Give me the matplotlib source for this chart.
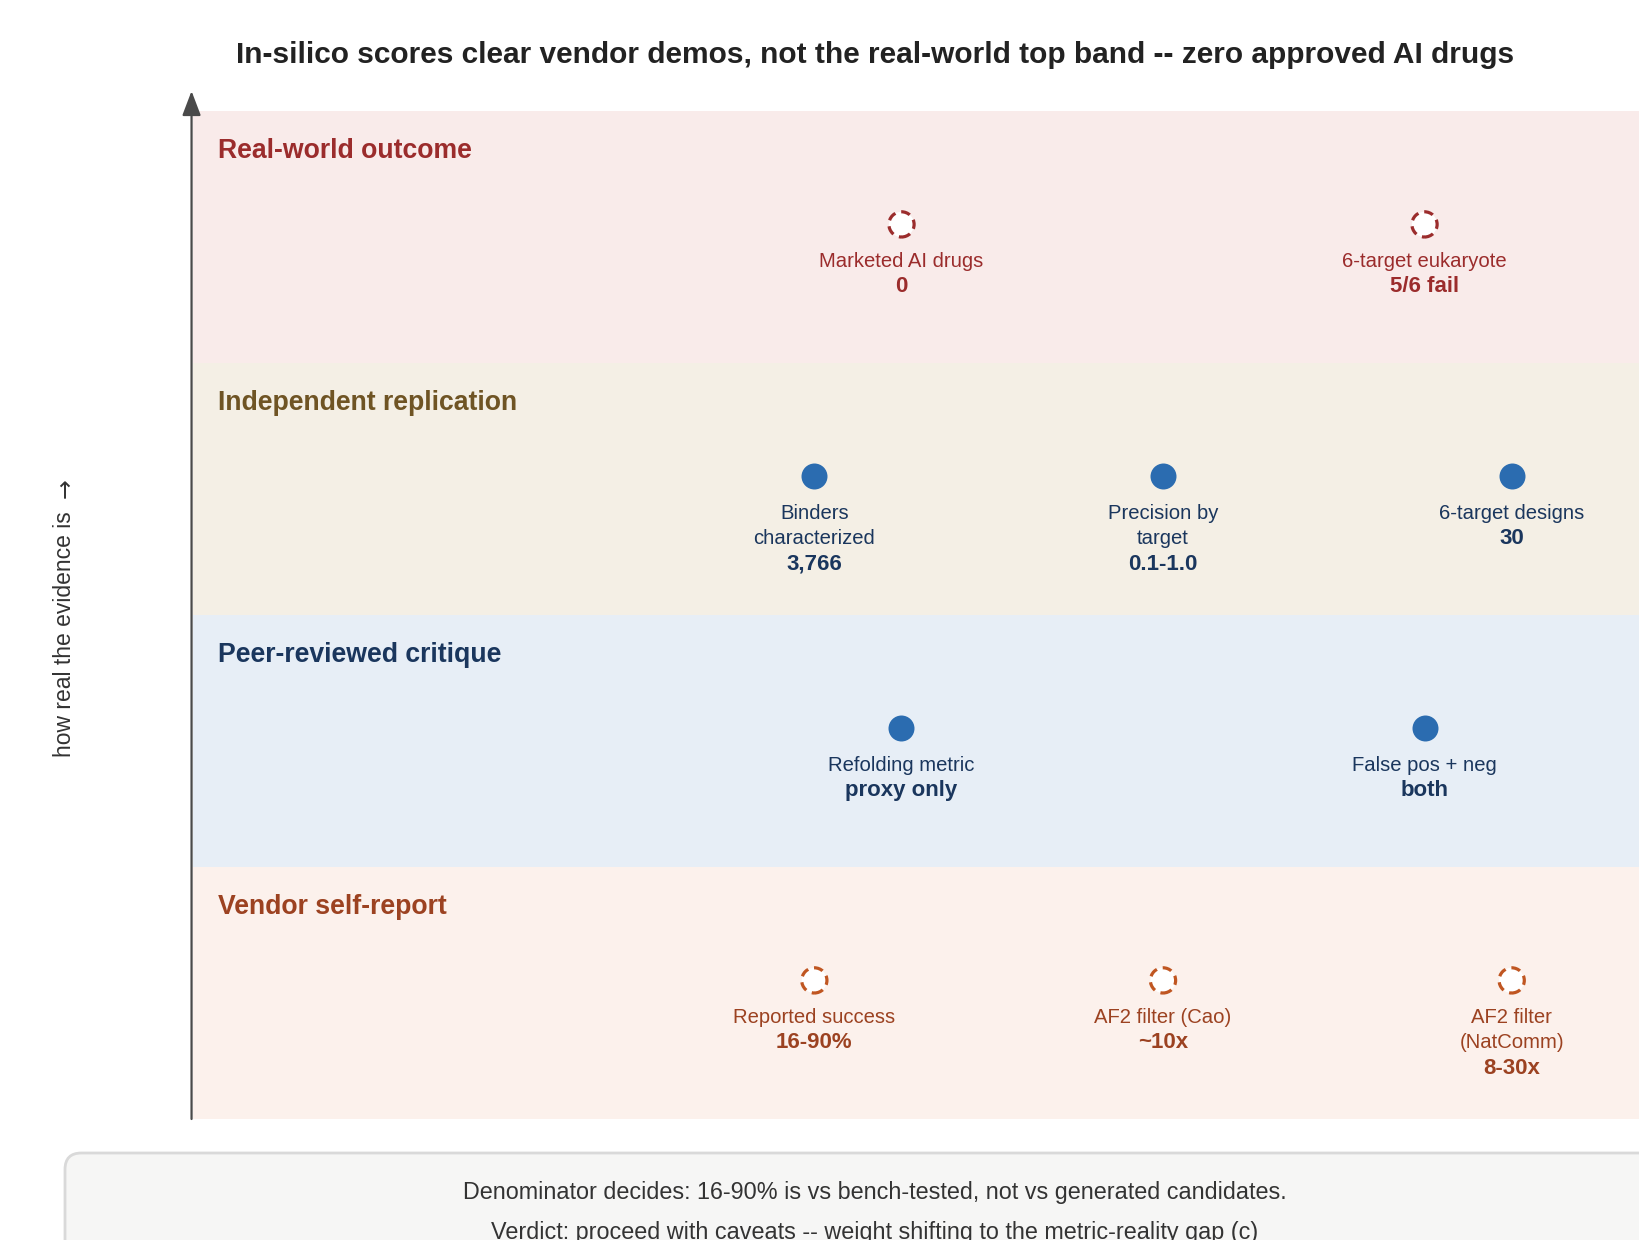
import numpy as np
import matplotlib.pyplot as plt
from matplotlib.patches import FancyBboxPatch

plt.rcParams['font.family'] = ['Liberation Sans', 'DejaVu Sans']

# bands, bottom to top
bands = ['Vendor self-report', 'Peer-reviewed critique',
         'Independent replication', 'Real-world outcome']
band_bg = ['#fcf1ec', '#e7eef6', '#f4efe5', '#f9ebea']
band_fg = ['#9c4221', '#1a365d', '#6f5424', '#9b2c2c']
text_fg = ['#9c4221', '#1a365d', '#1a365d', '#9b2c2c']
mark_fg = ['#c05621', '#2b6cb0', '#2b6cb0', '#9b2c2c']
hollow = [True, False, False, True]

vendor_labels = ['Reported success', 'AF2 filter (Cao)', 'AF2 filter\n(NatComm)']
vendor_values = ['16-90%', '~10x', '8-30x']
peer_labels = ['Refolding metric', 'False pos + neg']
peer_values = ['proxy only', 'both']
indep_labels = ['Binders\ncharacterized', 'Precision by\ntarget', '6-target designs']
indep_values = ['3,766', '0.1-1.0', '30']
real_labels = ['Marketed AI drugs', '6-target eukaryote']
real_values = ['0', '5/6 fail']

band_labels = [vendor_labels, peer_labels, indep_labels, real_labels]
band_values = [vendor_values, peer_values, indep_values, real_values]

title = 'In-silico scores clear vendor demos, not the real-world top band -- zero approved AI drugs'
ylabel = 'how real the evidence is'
ylabel_arrow = '\u2192'
notes = ['Denominator decides: 16-90% is vs bench-tested, not vs generated candidates.',
         'Verdict: proceed with caveats -- weight shifting to the metric-reality gap (c)']

W, H = 1640, 1240
fig = plt.figure(figsize=(W / 100, H / 100), dpi=100)
ax = fig.add_axes([193 / W, 1 - 1119 / H, 1 - 193 / W, 1008 / H])
ax.set_xlim(-0.4273, 0.956)
ax.set_ylim(0, 4)
ax.axis('off')

for i, name in enumerate(bands):
    ax.axhspan(i, i + 1, color=band_bg[i], lw=0, zorder=0)
    ax.annotate(name, xy=(0, i + 0.842), xycoords=ax.get_yaxis_transform(),
                xytext=(18, 0), textcoords='offset points', ha='left', va='center',
                fontsize=19.2, fontweight='bold', color=band_fg[i])

    labels = band_labels[i]
    values = band_values[i]
    n = len(labels)
    xs = (np.arange(n) + 0.5) / n
    ys = np.full(n, i + 0.55)
    if hollow[i]:
        ax.scatter(xs, ys, s=330, facecolor='white', edgecolor=mark_fg[i],
                   linewidths=2.3, linestyle=(0, (2.9, 1.9)), zorder=3)
    else:
        ax.scatter(xs, ys, s=350, color=mark_fg[i], lw=0, zorder=3)

    for x, y, lab, val in zip(xs, ys, labels, values):
        lines = lab.split('\n')
        for k, line in enumerate(lines):
            ax.annotate(line, xy=(x, y), xytext=(0, -(37 + 25.5 * k) * 0.72),
                        textcoords='offset points', ha='center', va='center',
                        fontsize=14.6, color=text_fg[i])
        ax.annotate(val, xy=(x, y), xytext=(0, -(37 + 25.5 * len(lines)) * 0.72),
                    textcoords='offset points', ha='center', va='center',
                    fontsize=16, fontweight='bold', color=text_fg[i])

# vertical arrow
ax.annotate('', xy=(-0.001, 1.0198), xytext=(-0.001, 0), xycoords='axes fraction',
            arrowprops=dict(arrowstyle='-|>,head_length=1.0,head_width=0.38',
                            mutation_scale=15, color='#4a4a4a', lw=1.6,
                            shrinkA=0, shrinkB=0), annotation_clip=False)

fig.text(875 / W, 1 - 55 / H, title, ha='center', va='center',
         fontsize=21.5, fontweight='bold', color='#222222')
fig.text(65 / W, 1 - 757 / H, ylabel, rotation=90, ha='center', va='bottom',
         fontsize=16.5, color='#333333')
fig.text(66 / W, 1 - 498 / H, ylabel_arrow, rotation=90, ha='center', va='bottom',
         fontsize=17, color='#333333', family='DejaVu Sans')

box = FancyBboxPatch((65 / W, -0.05), 1620 / W, 1 - 1153 / H + 0.05,
                     boxstyle='round,pad=0,rounding_size=0.01', mutation_aspect=W / H,
                     transform=fig.transFigure, facecolor='#f6f6f5',
                     edgecolor='#d9d9d9', lw=2)
fig.add_artist(box)
fig.text(875 / W, 1 - 1193 / H, notes[0], ha='center', va='center',
         fontsize=16.8, color='#333333')
fig.text(875 / W, 1 - 1233 / H, notes[1], ha='center', va='center',
         fontsize=16.8, color='#333333')

fig.savefig('out.png', dpi=100)
